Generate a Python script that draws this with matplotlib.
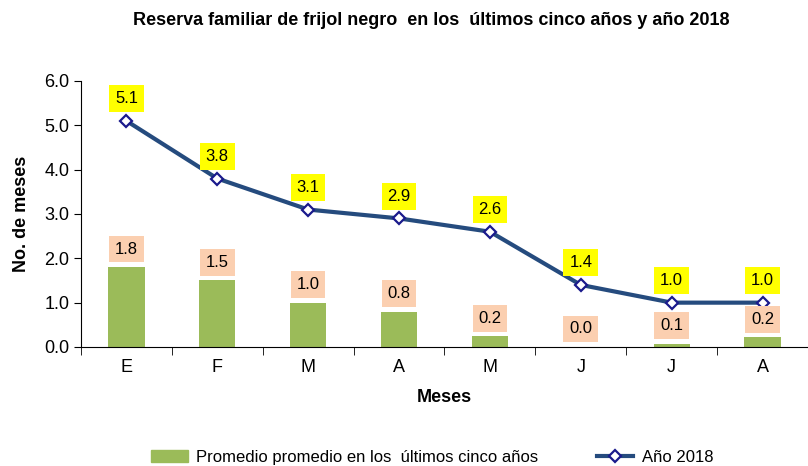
import matplotlib.pyplot as plt
from matplotlib.lines import Line2D
from matplotlib.patches import Patch

plt.rcParams['font.family'] = ['Liberation Sans', 'DejaVu Sans']

# Data
meses = ['E', 'F', 'M', 'A', 'M', 'J', 'J', 'A']
promedio = [1.8, 1.5, 1.0, 0.8, 0.24, 0.0, 0.07, 0.22]
anio_2018 = [5.1, 3.8, 3.1, 2.9, 2.6, 1.4, 1.0, 1.0]

fig = plt.figure(figsize=(8.08, 4.66), dpi=100)
ax = fig.add_axes([0.1002, 0.2554, 0.8998, 0.5708])

x = list(range(len(meses)))
ax.bar(x, promedio, width=0.4, color='#9BBB59', zorder=2)
ax.plot(x, anio_2018, color='#254B7E', lw=3, marker='D', ms=6,
        mfc='white', mec='#1A1A8C', mew=1.6, zorder=3)

for xi, v in zip(x, promedio):
    ax.annotate(f'{v:.1f}', (xi, v), xytext=(0, 13), textcoords='offset points',
                ha='center', va='center', fontsize=12,
                bbox=dict(boxstyle='square,pad=0.35', fc='#FBCFB0', ec='none'))
for xi, v in zip(x, anio_2018):
    ax.annotate(f'{v:.1f}', (xi, v), xytext=(0, 16), textcoords='offset points',
                ha='center', va='center', fontsize=12,
                bbox=dict(boxstyle='square,pad=0.35', fc='#FFFF00', ec='none'))

ax.set_ylim(0, 6)
ax.set_yticks([0, 1, 2, 3, 4, 5, 6])
ax.set_yticklabels([f'{t:.1f}' for t in range(7)], fontsize=13)
ax.set_xlim(-0.5, 7.37)
ax.set_xticks(x)
ax.set_xticklabels(meses, fontsize=13)
ax.tick_params(axis='x', length=0, pad=9)
ax.set_xticks([i + 0.5 for i in range(-1, 8)], minor=True)
ax.tick_params(axis='x', which='minor', length=6, direction='out')
ax.tick_params(axis='y', length=5, direction='out')
for s in ['top', 'right']:
    ax.spines[s].set_visible(False)

ax.set_ylabel('No. de meses', fontsize=13, fontweight='bold', labelpad=10)
ax.set_xlabel('Meses', fontsize=13, fontweight='bold', labelpad=9)
fig.suptitle('Reserva familiar de frijol negro  en los  últimos cinco años y año 2018',
             fontsize=13, fontweight='bold', x=0.534, y=0.975)

handles = [Patch(color='#9BBB59'),
           Line2D([], [], color='#254B7E', lw=3, marker='D', ms=6,
                  mfc='white', mec='#1A1A8C', mew=1.6)]
fig.legend(handles, ['Promedio promedio en los  últimos cinco años', 'Año 2018'],
           loc='lower center', bbox_to_anchor=(0.535, -0.03), ncol=2, frameon=False,
           fontsize=12, columnspacing=3.5, handlelength=2.2, handletextpad=0.5)

fig.savefig('out.png', dpi=100)
